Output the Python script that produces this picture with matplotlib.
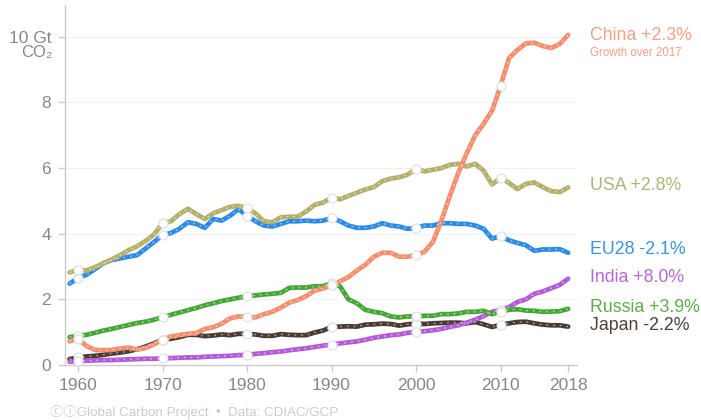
import matplotlib
matplotlib.use("Agg")
import matplotlib.pyplot as plt
import numpy as np

years = list(range(1959, 2019))

china = [0.72, 0.80, 0.58, 0.46, 0.45, 0.46, 0.50, 0.53, 0.47, 0.52, 0.63, 0.77, 0.87, 0.91, 0.95, 0.97,
         1.10, 1.15, 1.26, 1.42, 1.48, 1.47, 1.45, 1.55, 1.62, 1.75, 1.90, 1.98, 2.10, 2.27, 2.33, 2.43,
         2.55, 2.68, 2.88, 3.05, 3.30, 3.42, 3.42, 3.30, 3.30, 3.35, 3.45, 3.75, 4.40, 5.15, 5.85, 6.45,
         7.00, 7.35, 7.75, 8.50, 9.35, 9.60, 9.80, 9.82, 9.72, 9.66, 9.78, 10.06]
usa = [2.82, 2.90, 2.88, 2.98, 3.10, 3.22, 3.35, 3.50, 3.62, 3.78, 3.98, 4.32, 4.38, 4.60, 4.76, 4.60,
       4.45, 4.62, 4.72, 4.82, 4.85, 4.78, 4.62, 4.38, 4.35, 4.50, 4.52, 4.52, 4.68, 4.88, 4.95, 5.10,
       5.05, 5.15, 5.25, 5.35, 5.42, 5.60, 5.68, 5.72, 5.80, 5.98, 5.90, 5.95, 6.00, 6.10, 6.13, 6.05,
       6.13, 5.92, 5.50, 5.70, 5.55, 5.36, 5.52, 5.56, 5.42, 5.30, 5.27, 5.41]
eu28 = [2.48, 2.65, 2.75, 2.92, 3.10, 3.20, 3.25, 3.30, 3.35, 3.55, 3.75, 3.96, 4.02, 4.15, 4.35, 4.30,
        4.18, 4.45, 4.40, 4.55, 4.75, 4.55, 4.38, 4.25, 4.22, 4.30, 4.38, 4.38, 4.40, 4.38, 4.40, 4.48,
        4.38, 4.25, 4.18, 4.18, 4.22, 4.32, 4.25, 4.22, 4.15, 4.17, 4.25, 4.25, 4.32, 4.32, 4.30, 4.30,
        4.25, 4.15, 3.85, 3.93, 3.80, 3.72, 3.65, 3.48, 3.52, 3.52, 3.53, 3.42]
india = [0.10, 0.12, 0.13, 0.14, 0.15, 0.15, 0.16, 0.17, 0.18, 0.19, 0.19, 0.20, 0.21, 0.22, 0.23, 0.23,
         0.25, 0.26, 0.27, 0.28, 0.30, 0.31, 0.34, 0.36, 0.39, 0.41, 0.45, 0.48, 0.51, 0.55, 0.59, 0.62,
         0.66, 0.69, 0.72, 0.77, 0.83, 0.87, 0.91, 0.93, 0.98, 1.01, 1.03, 1.06, 1.10, 1.16, 1.21, 1.29,
         1.38, 1.49, 1.62, 1.68, 1.76, 1.92, 2.00, 2.17, 2.24, 2.34, 2.44, 2.63]
russia = [0.85, 0.89, 0.92, 0.98, 1.05, 1.10, 1.16, 1.22, 1.28, 1.32, 1.38, 1.46, 1.53, 1.60, 1.67, 1.74,
          1.82, 1.88, 1.95, 2.00, 2.05, 2.10, 2.12, 2.15, 2.17, 2.20, 2.35, 2.36, 2.36, 2.40, 2.40, 2.50,
          2.40, 2.00, 1.88, 1.68, 1.62, 1.58, 1.48, 1.45, 1.48, 1.48, 1.50, 1.50, 1.55, 1.55, 1.57, 1.62,
          1.62, 1.65, 1.55, 1.63, 1.68, 1.70, 1.66, 1.65, 1.62, 1.63, 1.64, 1.71]
japan = [0.18, 0.23, 0.26, 0.28, 0.31, 0.35, 0.38, 0.42, 0.48, 0.56, 0.66, 0.77, 0.80, 0.85, 0.92, 0.92,
         0.88, 0.90, 0.93, 0.91, 0.95, 0.95, 0.93, 0.89, 0.89, 0.94, 0.92, 0.91, 0.91, 0.99, 1.05, 1.16,
         1.17, 1.18, 1.17, 1.23, 1.24, 1.26, 1.25, 1.20, 1.24, 1.26, 1.25, 1.27, 1.28, 1.29, 1.29, 1.27,
         1.31, 1.24, 1.16, 1.22, 1.27, 1.31, 1.32, 1.27, 1.23, 1.21, 1.21, 1.17]

names = ["Japan", "India", "Russia", "EU28", "USA", "China"]
growth = ["-2.2%", "+8.0%", "+3.9%", "-2.1%", "+2.8%", "+2.3%"]
series = [japan, india, russia, eu28, usa, china]
line_colors = ["#4a3a32", "#b45ad6", "#45a735", "#2b8be6", "#b3b06a", "#f48e6c"]
text_colors = ["#4e4038", "#b866d8", "#5aae48", "#3a94e8", "#b4b27c", "#f5a084"]
label_y_px = [326, 278, 308, 250, 186, 35]

x_ticks = [1960, 1970, 1980, 1990, 2000, 2010, 2018]
y_ticks = [0, 2, 4, 6, 8, 10]
y_ticklabels = ["0", "2", "4", "6", "8", "10 Gt"]
marker_years = [1960, 1970, 1980, 1990, 2000, 2010]

W, H = 701, 420
plt.rcParams['font.family'] = ['Liberation Sans', 'DejaVu Sans', 'Noto Sans CJK JP']
fig = plt.figure(figsize=(W / 100, H / 100), dpi=100)
ax = fig.add_axes([65 / W, 1 - 365 / H, (577 - 65) / W, (365 - 5) / H])

ax.set_xlim(1958.46, 2019.05)
ax.set_ylim(0, 10.97)

for yv in y_ticks[1:]:
    ax.axhline(yv, color="#f1f1f1", lw=0.9, zorder=0)

yrs = np.array(years)
for s, c in zip(series, line_colors):
    vals = np.array(s)
    ax.plot(yrs, vals, color=c, lw=3.4, solid_capstyle="round", zorder=2)
    ax.plot(yrs, vals, color="white", lw=1.1, alpha=0.5, linestyle=(0, (1.2, 3.2)), zorder=3)
    mk = np.isin(yrs, marker_years)
    ax.plot(yrs[mk], vals[mk], linestyle="none", marker="o", ms=6.5,
            mfc="white", mec="#dddddd", mew=0.8, zorder=4)

for side in ["top", "right"]:
    ax.spines[side].set_visible(False)
for side in ["left", "bottom"]:
    ax.spines[side].set_color("#cccccc")
    ax.spines[side].set_linewidth(1.0)

ax.set_xticks(x_ticks)
ax.set_xticklabels([str(t) for t in x_ticks])
ax.set_yticks(y_ticks)
ax.set_yticklabels(y_ticklabels)
ax.tick_params(axis="both", colors="#cccccc", labelcolor="#888888", labelsize=12.5, length=5, width=1.0)
ax.tick_params(axis="y", pad=5)
ax.tick_params(axis="x", pad=4)

fig.text(53 / W, 1 - 53 / H, "CO₂", ha="right", va="center", fontsize=12, color="#888888")

for n, g, c, ypx in zip(names, growth, text_colors, label_y_px):
    fig.text(590 / W, 1 - ypx / H, f"{n} {g}", ha="left", va="center", fontsize=12.8, color=c)
fig.text(590 / W, 1 - 53 / H, "Growth over 2017", ha="left", va="center", fontsize=8.3, color="#f5a084")

fig.text(50 / W, 1 - 412 / H, "ⓒⓘGlobal Carbon Project  •  Data: CDIAC/GCP", ha="left", va="center",
         fontsize=9.6, color="#cccccc",
         family=['Liberation Sans', 'Noto Sans CJK JP', 'DejaVu Sans'])

fig.savefig("out.png", dpi=100)
